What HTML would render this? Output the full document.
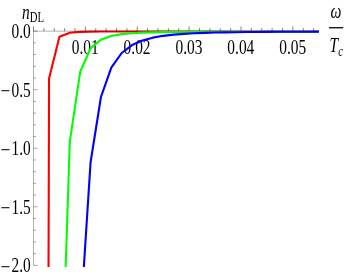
<!DOCTYPE html>
<html><head><meta charset="utf-8"><style>html,body{margin:0;padding:0;background:#fff;}svg{display:block;will-change:transform;}</style></head><body>
<svg width="346" height="277" viewBox="0 0 346 277">
<rect width="346" height="277" fill="#fff"/>
<defs><clipPath id="cp"><rect x="0" y="0" width="346" height="267.0"/></clipPath></defs>
<path d="M38.69,3846.55 L49.06,78.55 L59.44,36.69 L69.81,32.68 L80.19,31.87 L90.56,31.63 L100.94,31.54 L111.31,31.50 L121.69,31.48 L132.06,31.47 L142.44,31.46 L152.81,31.46 L163.19,31.46 L173.56,31.45 L183.94,31.45 L194.31,31.45 L204.69,31.45 L215.06,31.45 L225.44,31.45 L235.81,31.45 L246.19,31.45 L256.56,31.45 L266.94,31.45 L277.31,31.45 L287.69,31.45 L298.06,31.45 L308.44,31.45 L318.81,31.45 L318.81,31.45" stroke="#ff0000" stroke-width="2.1" fill="none" stroke-linejoin="round" clip-path="url(#cp)"/>
<g stroke="#000" stroke-opacity="0.30" stroke-width="1" fill="none">
<line x1="33.5" y1="31.15" x2="318.81" y2="31.15"/>
<line x1="33.5" y1="31.15" x2="33.5" y2="265.35"/>
</g>
<g stroke="#000" stroke-opacity="0.55" stroke-width="0.9" fill="none">
<line x1="33.50" y1="31.15" x2="33.50" y2="26.45"/>
<line x1="43.88" y1="31.15" x2="43.88" y2="28.15"/>
<line x1="54.25" y1="31.15" x2="54.25" y2="28.15"/>
<line x1="64.62" y1="31.15" x2="64.62" y2="28.15"/>
<line x1="75.00" y1="31.15" x2="75.00" y2="28.15"/>
<line x1="85.38" y1="31.15" x2="85.38" y2="26.45"/>
<line x1="95.75" y1="31.15" x2="95.75" y2="28.15"/>
<line x1="106.12" y1="31.15" x2="106.12" y2="28.15"/>
<line x1="116.50" y1="31.15" x2="116.50" y2="28.15"/>
<line x1="126.88" y1="31.15" x2="126.88" y2="28.15"/>
<line x1="137.25" y1="31.15" x2="137.25" y2="26.45"/>
<line x1="147.62" y1="31.15" x2="147.62" y2="28.15"/>
<line x1="158.00" y1="31.15" x2="158.00" y2="28.15"/>
<line x1="168.38" y1="31.15" x2="168.38" y2="28.15"/>
<line x1="178.75" y1="31.15" x2="178.75" y2="28.15"/>
<line x1="189.12" y1="31.15" x2="189.12" y2="26.45"/>
<line x1="199.50" y1="31.15" x2="199.50" y2="28.15"/>
<line x1="209.88" y1="31.15" x2="209.88" y2="28.15"/>
<line x1="220.25" y1="31.15" x2="220.25" y2="28.15"/>
<line x1="230.62" y1="31.15" x2="230.62" y2="28.15"/>
<line x1="241.00" y1="31.15" x2="241.00" y2="26.45"/>
<line x1="251.38" y1="31.15" x2="251.38" y2="28.15"/>
<line x1="261.75" y1="31.15" x2="261.75" y2="28.15"/>
<line x1="272.12" y1="31.15" x2="272.12" y2="28.15"/>
<line x1="282.50" y1="31.15" x2="282.50" y2="28.15"/>
<line x1="292.88" y1="31.15" x2="292.88" y2="26.45"/>
<line x1="303.25" y1="31.15" x2="303.25" y2="28.15"/>
<line x1="313.62" y1="31.15" x2="313.62" y2="28.15"/>
<line x1="33.5" y1="31.15" x2="37.50" y2="31.15" stroke-opacity="0.4"/>
<line x1="33.5" y1="42.86" x2="35.90" y2="42.86" stroke-opacity="0.4"/>
<line x1="33.5" y1="54.57" x2="35.90" y2="54.57" stroke-opacity="0.4"/>
<line x1="33.5" y1="66.28" x2="35.90" y2="66.28" stroke-opacity="0.4"/>
<line x1="33.5" y1="77.99" x2="35.90" y2="77.99" stroke-opacity="0.4"/>
<line x1="33.5" y1="89.70" x2="37.50" y2="89.70" stroke-opacity="0.4"/>
<line x1="33.5" y1="101.41" x2="35.90" y2="101.41" stroke-opacity="0.4"/>
<line x1="33.5" y1="113.12" x2="35.90" y2="113.12" stroke-opacity="0.4"/>
<line x1="33.5" y1="124.83" x2="35.90" y2="124.83" stroke-opacity="0.4"/>
<line x1="33.5" y1="136.54" x2="35.90" y2="136.54" stroke-opacity="0.4"/>
<line x1="33.5" y1="148.25" x2="37.50" y2="148.25" stroke-opacity="0.4"/>
<line x1="33.5" y1="159.96" x2="35.90" y2="159.96" stroke-opacity="0.4"/>
<line x1="33.5" y1="171.67" x2="35.90" y2="171.67" stroke-opacity="0.4"/>
<line x1="33.5" y1="183.38" x2="35.90" y2="183.38" stroke-opacity="0.4"/>
<line x1="33.5" y1="195.09" x2="35.90" y2="195.09" stroke-opacity="0.4"/>
<line x1="33.5" y1="206.80" x2="37.50" y2="206.80" stroke-opacity="0.4"/>
<line x1="33.5" y1="218.51" x2="35.90" y2="218.51" stroke-opacity="0.4"/>
<line x1="33.5" y1="230.22" x2="35.90" y2="230.22" stroke-opacity="0.4"/>
<line x1="33.5" y1="241.93" x2="35.90" y2="241.93" stroke-opacity="0.4"/>
<line x1="33.5" y1="253.64" x2="35.90" y2="253.64" stroke-opacity="0.4"/>
<line x1="33.5" y1="265.35" x2="37.50" y2="265.35" stroke-opacity="0.4"/>
</g>
<g font-family="'Liberation Serif', serif" fill="#000">
<text transform="translate(85.17,53.70) scale(1,1.385)" font-size="15.4" text-anchor="middle" >0.01</text>
<text transform="translate(137.05,53.70) scale(1,1.385)" font-size="15.4" text-anchor="middle" >0.02</text>
<text transform="translate(188.93,53.70) scale(1,1.385)" font-size="15.4" text-anchor="middle" >0.03</text>
<text transform="translate(240.80,53.70) scale(1,1.385)" font-size="15.4" text-anchor="middle" >0.04</text>
<text transform="translate(292.68,53.70) scale(1,1.385)" font-size="15.4" text-anchor="middle" >0.05</text>
<text transform="translate(30.70,38.25) scale(1,1.385)" font-size="15.4" text-anchor="end" >0.0</text>
<text transform="translate(30.70,96.80) scale(1,1.385)" font-size="15.4" text-anchor="end" >0.5</text>
<text transform="translate(0.5,98.20) scale(1.13,1.385)" font-size="15.4">−</text>
<text transform="translate(30.70,155.35) scale(1,1.385)" font-size="15.4" text-anchor="end" >1.0</text>
<text transform="translate(0.5,156.75) scale(1.13,1.385)" font-size="15.4">−</text>
<text transform="translate(30.70,213.90) scale(1,1.385)" font-size="15.4" text-anchor="end" >1.5</text>
<text transform="translate(0.5,215.30) scale(1.13,1.385)" font-size="15.4">−</text>
<text transform="translate(30.70,272.45) scale(1,1.385)" font-size="15.4" text-anchor="end" >2.0</text>
<text transform="translate(0.5,273.85) scale(1.13,1.385)" font-size="15.4">−</text>
<text transform="translate(22.0,18.6) scale(1,1.385)" font-size="15.4"><tspan font-style="italic">n</tspan><tspan font-size="10.7" dy="2.6">DL</tspan></text>
<text transform="translate(336.00,18.00) scale(1,1.385)" font-size="15.4" text-anchor="middle" font-style="italic">ω</text>
<rect x="329.0" y="27.1" width="14.2" height="1.3" fill="#000"/>
<text transform="translate(329.6,51.5) scale(1,1.385)" font-size="15.4"><tspan font-style="italic">T</tspan><tspan font-style="italic" font-size="10.3" dy="3.2">c</tspan></text>
</g>
<path d="M49.06,3287.90 L59.44,453.70 L69.81,141.55 L80.19,71.90 L90.56,48.33 L100.94,39.67 L111.31,35.95 L121.69,34.15 L132.06,33.20 L142.44,32.67 L152.81,32.35 L163.19,32.15 L173.56,32.02 L183.94,31.93 L194.31,31.87 L204.69,31.83 L215.06,31.80 L225.44,31.78 L235.81,31.76 L246.19,31.75 L256.56,31.74 L266.94,31.73 L277.31,31.73 L287.69,31.72 L298.06,31.72 L308.44,31.72 L318.81,31.71 L318.81,31.71" stroke="#00ff00" stroke-width="2.1" fill="none" stroke-linejoin="round" clip-path="url(#cp)"/>
<path d="M69.81,830.32 L80.19,323.83 L90.56,162.50 L100.94,96.99 L111.31,67.66 L121.69,53.01 L132.06,45.06 L142.44,40.45 L152.81,37.64 L163.19,35.84 L173.56,34.65 L183.94,33.84 L194.31,33.28 L204.69,32.87 L215.06,32.57 L225.44,32.35 L235.81,32.19 L246.19,32.06 L256.56,31.96 L266.94,31.88 L277.31,31.82 L287.69,31.77 L298.06,31.73 L308.44,31.69 L318.81,31.66 L318.81,31.66" stroke="#0000ff" stroke-width="2.1" fill="none" stroke-linejoin="round" clip-path="url(#cp)"/>
</svg>
</body></html>
